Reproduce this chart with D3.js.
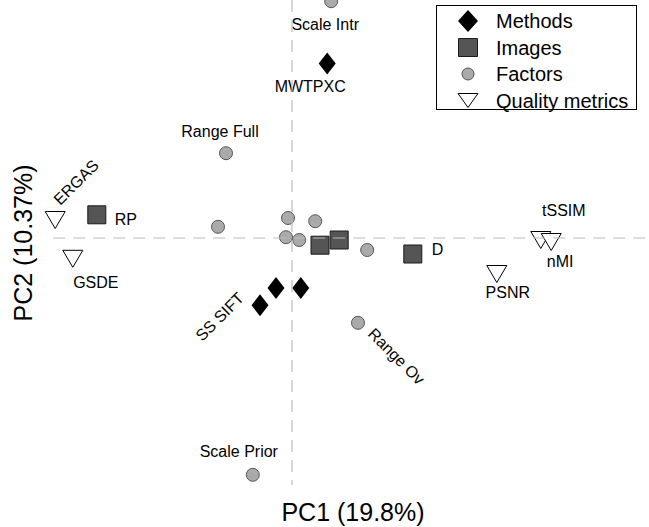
<!DOCTYPE html>
<html>
<head>
<meta charset="utf-8">
<script src="https://cdn.jsdelivr.net/npm/d3@7"></script>
<style>
  html, body { margin: 0; padding: 0; background: #fff; }
  svg { display: block; font-family: "Liberation Sans", Arial, sans-serif; }
</style>
</head>
<body>
<div id="chart"></div>
<script>
// PCA biplot: scores on PC1 / PC2
const methodNames = ["MWTPXC", "SS SIFT", "", ""];
const methodPC1 = [0.44, -0.40, -0.20, 0.11];
const methodPC2 = [2.18, -0.84, -0.625, -0.625];

const imageNames = ["RP", "", "", "D"];
const imagePC1 = [-2.44, 0.35, 0.59, 1.51];
const imagePC2 = [0.29, -0.09, -0.025, -0.20];

const factorNames = ["Scale Intr", "Range Full", "Scale Prior", "Range Ov", "", "", "", "", "", ""];
const factorPC1 = [0.49, -0.825, -0.49, 0.825, -0.925, -0.05, 0.29, -0.075, 0.09, 0.94];
const factorPC2 = [2.96, 1.06, -2.96, -1.06, 0.14, 0.25, 0.21, 0.01, -0.025, -0.15];

const metricNames = ["ERGAS", "GSDE", "tSSIM", "nMI", "PSNR"];
const metricPC1 = [-2.96, -2.74, 3.11, 3.24, 2.56];
const metricPC2 = [0.225, -0.26, -0.025, -0.05, -0.45];

const legendLabels = ["Methods", "Images", "Factors", "Quality metrics"];
const xTitle = "PC1 (19.8%)";
const yTitle = "PC2 (10.37%)";

// label placement (pixel offsets from the point, rotation)
const labelPos = {
    "MWTPXC": { dx: -17, dy: 28, anchor: "middle" },
    "SS SIFT": { dx: -15, dy: -6, anchor: "end", rot: -45 },
    "RP": { dx: 18, dy: 10, anchor: "start" },
    "D": { dx: 19, dy: 1, anchor: "start" },
    "Scale Intr": { dx: -6, dy: 29, anchor: "middle" },
    "Range Full": { dx: -6, dy: -16, anchor: "middle" },
    "Scale Prior": { dx: -14, dy: -18, anchor: "middle" },
    "Range Ov": { dx: 9, dy: 12, anchor: "start", rot: 45 },
    "ERGAS": { dx: 5, dy: -14, anchor: "start", rot: -45 },
    "GSDE": { dx: 23, dy: 29, anchor: "middle" },
    "tSSIM": { dx: 23, dy: -24, anchor: "middle" },
    "nMI": { dx: 9, dy: 25, anchor: "middle" },
    "PSNR": { dx: 11, dy: 24, anchor: "middle" }
};

const width = 649, height = 527;

const svg = d3.select('#chart')
    .append('svg')
    .attr('width', width)
    .attr('height', height);

const x = d3.scaleLinear().domain([-3, 4]).range([52, 612]);
const y = d3.scaleLinear().domain([-3, 3]).range([478, -2]);

// marker shapes
const shapes = {
    diamond: 'M0,-11L8.5,0L0,11L-8.5,0Z',
    square: 'M-9,-9H9V9H-9Z',
    triangle: 'M-10,-8.5L10,-8.5L0,8.5Z'
};

const groups = [
    { type: 'factor', names: factorNames, xs: factorPC1, ys: factorPC2 },
    { type: 'image', names: imageNames, xs: imagePC1, ys: imagePC2 },
    { type: 'method', names: methodNames, xs: methodPC1, ys: methodPC2 },
    { type: 'metric', names: metricNames, xs: metricPC1, ys: metricPC2 }
];

function drawMarker(g, type, big) {
    if (type === 'factor') {
        g.append('circle')
            .attr('r', big ? 6 : 6.5)
            .attr('fill', '#aaaaaa')
            .attr('stroke', '#555')
            .attr('stroke-width', 1);
    } else if (type === 'image') {
        g.append('path')
            .attr('d', big ? 'M-9.5,-9H9.5V9H-9.5Z' : shapes.square)
            .attr('fill', '#555555')
            .attr('stroke', '#1a1a1a')
            .attr('stroke-width', 1);
    } else if (type === 'method') {
        g.append('path')
            .attr('d', big ? 'M0,-11L10,0L0,11L-10,0Z' : shapes.diamond)
            .attr('fill', '#000');
    } else {
        g.append('path')
            .attr('d', big ? 'M-10,-7L10,-7L0,7Z' : shapes.triangle)
            .attr('fill', '#fff')
            .attr('stroke', '#000')
            .attr('stroke-width', 1);
    }
}

// points
groups.forEach(grp => {
    const data = grp.names.map((n, i) => ({ name: n, px: grp.xs[i], py: grp.ys[i] }));
    const pts = svg.append('g')
        .selectAll('g')
        .data(data)
        .enter()
        .append('g')
        .attr('transform', d => `translate(${x(d.px)},${y(d.py)})`);
    pts.each(function () { drawMarker(d3.select(this), grp.type, false); });

    // labels
    svg.append('g')
        .selectAll('text')
        .data(data.filter(d => d.name && labelPos[d.name]))
        .enter()
        .append('text')
        .attr('font-size', 16)
        .attr('text-anchor', d => labelPos[d.name].anchor)
        .attr('transform', d => {
            const p = labelPos[d.name];
            return `translate(${x(d.px) + p.dx},${y(d.py) + p.dy}) rotate(${p.rot || 0})`;
        })
        .text(d => d.name);
});

// zero lines (drawn over the markers)
const allX = [].concat(factorPC1, imagePC1, methodPC1, metricPC1);
svg.append('line')
    .attr('x1', x(d3.min(allX)) - 2).attr('x2', width)
    .attr('y1', y(0)).attr('y2', y(0))
    .attr('stroke', '#bbbbbb')
    .attr('stroke-width', 1.2)
    .attr('stroke-dasharray', '12,8');
svg.append('line')
    .attr('x1', x(0)).attr('x2', x(0))
    .attr('y1', 0).attr('y2', 485)
    .attr('stroke', '#bbbbbb')
    .attr('stroke-width', 1.2)
    .attr('stroke-dasharray', '12,8');

// axis titles
svg.append('text')
    .attr('x', 353).attr('y', 521)
    .attr('text-anchor', 'middle')
    .attr('font-size', 25)
    .text(xTitle);
svg.append('text')
    .attr('transform', 'translate(32,243) rotate(-90)')
    .attr('text-anchor', 'middle')
    .attr('font-size', 25)
    .text(yTitle);

// legend
const legend = svg.append('g');
legend.append('rect')
    .attr('x', 436.5).attr('y', 5.5)
    .attr('width', 200).attr('height', 104)
    .attr('fill', '#fff')
    .attr('stroke', '#000')
    .attr('stroke-width', 1);
const legendTypes = ['method', 'image', 'factor', 'metric'];
const rows = legend.selectAll('g.row')
    .data(legendLabels)
    .enter()
    .append('g')
    .attr('class', 'row')
    .attr('transform', (d, i) => `translate(0,${21 + i * 26.5})`);
rows.each(function (d, i) {
    const g = d3.select(this).append('g').attr('transform', 'translate(468,0)');
    drawMarker(g, legendTypes[i], true);
});
rows.append('text')
    .attr('x', 496).attr('y', 7)
    .attr('font-size', 20)
    .text(d => d);
</script>
</body>
</html>
